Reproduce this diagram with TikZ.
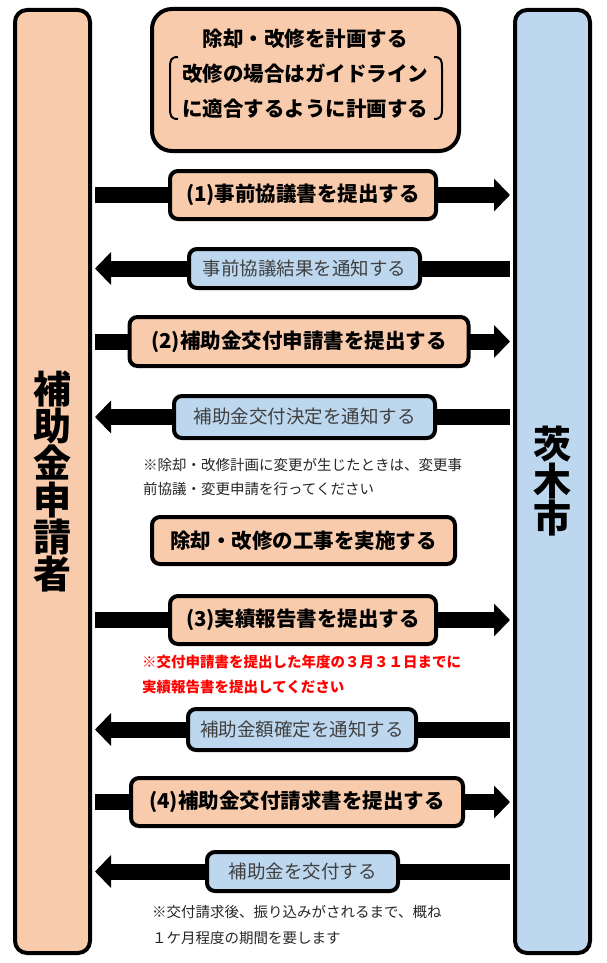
\documentclass[tikz,border=0pt]{standalone}
\usepackage{fontspec}
\setmainfont{Noto Sans CJK JP}
\usetikzlibrary{arrows.meta,backgrounds}
\definecolor{peach}{HTML}{F8CBAD}
\definecolor{pale}{HTML}{BDD7EE}
\begin{document}
\begin{tikzpicture}[x=1pt,y=-1pt,
  col/.style={draw,line width=4pt,rounded corners=12pt,minimum width=75pt,minimum height=943pt,align=center,font=\bfseries\fontsize{38}{37}\selectfont},
  box/.style={draw,line width=4pt,rounded corners=8pt,fill=peach,inner sep=0pt,font=\bfseries\fontsize{20.5}{24}\selectfont},
  reply/.style={box,fill=pale,text=black!75,font=\fontsize{18.5}{22}\selectfont},
  note/.style={anchor=west,align=left,inner sep=0pt},
  fat/.style={line width=16pt,-{Triangle[length=16pt,width=32pt]},shorten <=3pt,shorten >=3pt}]
        \useasboundingbox (0,0) rectangle (606,963);
        \node[col,fill=peach] (appl) at (52.5,481.5) {補\\助\\金\\申\\請\\者};
        \node[col,fill=pale] (city) at (552.5,481.5) {茨\\木\\市};
        \node[box,minimum width=307pt,minimum height=142pt,rounded corners=20pt] (plan) at (305.5,80) {};
        \node[align=center,font=\bfseries\fontsize{20.5}{35}\selectfont] (plantext) at (305,74) {除却・改修を計画する\\改修の場合はガイドライン\\に適合するように計画する};
        \draw[line width=2pt] (178,57) .. controls (171,57) and (170,60) .. (170,68) -- (170,108) .. controls (170,116) and (171,119) .. (178,119);
        \draw[line width=2pt] (434,57) .. controls (441,57) and (442,60) .. (442,68) -- (442,108) .. controls (442,116) and (441,119) .. (434,119);
        \node[box,minimum width=266pt,minimum height=48pt] (consult) at (303,195) {(1)事前協議書を提出する};
        \node[reply,minimum width=231pt,minimum height=39pt] (result) at (304.5,268.5) {事前協議結果を通知する};
        \node[box,minimum width=339pt,minimum height=49pt] (apply) at (299,341.5) {(2)補助金交付申請書を提出する};
        \node[reply,minimum width=261pt,minimum height=42pt] (decide) at (304.5,417) {補助金交付決定を通知する};
        \node[note,text=black!85,font=\fontsize{14.5}{24}\selectfont] (memo1) at (143,477) {※除却・改修計画に変更が生じたときは、変更事\\前協議・変更申請を行ってください};
        \node[box,minimum width=303pt,minimum height=47pt] (work) at (303.5,540.5) {除却・改修の工事を実施する};
        \node[box,minimum width=266pt,minimum height=48pt] (report) at (303,620) {(3)実績報告書を提出する};
        \node[note,text=red,font=\bfseries\fontsize{14.5}{25}\selectfont] (memo2) at (142,674.5) {※交付申請書を提出した年度の３月３１日までに\\実績報告書を提出してください};
        \node[reply,minimum width=228pt,minimum height=41pt] (fix) at (302,729.5) {補助金額確定を通知する};
        \node[box,minimum width=332pt,minimum height=48pt] (claim) at (297,802) {(4)補助金交付請求書を提出する};
        \node[reply,minimum width=191pt,minimum height=39pt] (pay) at (302.5,871.5) {補助金を交付する};
        \node[note,text=black!85,font=\fontsize{14.5}{26}\selectfont] (memo3) at (152,925) {※交付請求後、振り込みがされるまで、概ね\\１ケ月程度の期間を要します};
        \begin{scope}[on background layer]
        \foreach \b in {consult,apply,report,claim}
          \draw[fat] (appl.east |- \b) -- (city.west |- \b);
        \foreach \b in {result,decide,fix,pay}
          \draw[fat] (city.west |- \b) -- (appl.east |- \b);
        \end{scope}
      \end{tikzpicture}
\end{document}
